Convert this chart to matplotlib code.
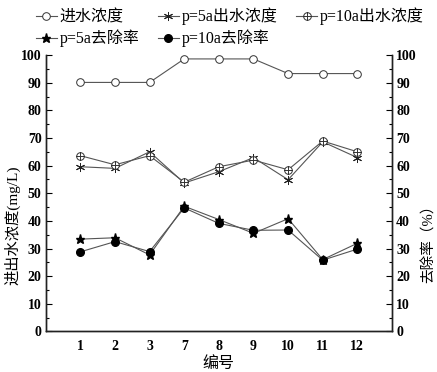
import matplotlib
matplotlib.use("Agg")
import matplotlib.pyplot as plt
from matplotlib.path import Path
from matplotlib.ticker import MultipleLocator
import numpy as np

plt.rcParams['font.family'] = ['Liberation Serif', 'Noto Sans CJK SC', 'DejaVu Sans']
plt.rcParams['axes.unicode_minus'] = False

categories = ['1', '2', '3', '7', '8', '9', '10', '11', '12']
inflow = [90.1, 90.1, 90.1, 98.6, 98.6, 98.6, 93.3, 93.3, 93.3]
out_p5 = [59.6, 59.0, 65.0, 53.7, 57.8, 62.9, 54.9, 68.6, 62.9]
out_p10 = [63.6, 60.3, 63.6, 54.0, 59.6, 62.0, 58.5, 68.9, 65.0]
rem_p5 = [33.4, 33.9, 27.7, 45.3, 40.5, 35.5, 40.8, 26.0, 31.9]
rem_p10 = [28.8, 32.5, 28.9, 44.7, 39.1, 36.6, 36.7, 25.8, 29.8]

# circle with plus marker
circ = Path.unit_circle()
cross = Path([(-1, 0), (1, 0), (0, -1), (0, 1)],
             [Path.MOVETO, Path.LINETO, Path.MOVETO, Path.LINETO])
oplus = Path.make_compound_path(circ, cross)

fig = plt.figure(figsize=(4.37, 3.72), dpi=100)
ax = fig.add_axes([0.1046, 0.109, 0.7924, 0.743])
ax2 = ax.twinx()

x = np.arange(len(categories))
lc = '#555555'
lw = 0.8
h1, = ax.plot(x, inflow, color=lc, lw=lw, marker='o', ms=5.5, mfc='white', mec='#333333', mew=0.7, label='进水浓度')
h2, = ax.plot(x, out_p5, color=lc, lw=lw, marker=(6, 2, 0), ms=6.5, mec='#222222', mew=0.7, label='p=5a出水浓度')
h3, = ax.plot(x, out_p10, color=lc, lw=lw, marker=oplus, ms=5.5, mfc='white', mec='#333333', mew=0.7, label='p=10a出水浓度')
h4, = ax2.plot(x, rem_p5, color=lc, lw=lw, marker='*', ms=6.5, mfc='black', mec='black', label='p=5a去除率')
h5, = ax2.plot(x, rem_p10, color=lc, lw=lw, marker='o', ms=5.5, mfc='black', mec='black', label='p=10a去除率')

for a in (ax, ax2):
    a.set_ylim(0, 100)
    a.set_xlim(-1, 9)
    a.yaxis.set_major_locator(MultipleLocator(10))
    a.yaxis.set_minor_locator(MultipleLocator(5))
    a.tick_params(axis='y', which='major', direction='in', length=4, width=0.8, labelsize=10, pad=3)
    a.tick_params(axis='y', which='minor', direction='in', length=2.5, width=0.8)
    a.spines['top'].set_visible(False)
    for s in ('left', 'right', 'bottom'):
        a.spines[s].set_linewidth(1.0)
        a.spines[s].set_color('#222222')

ax.set_xticks(x)
ax.set_xticklabels(categories)
ax.tick_params(axis='x', length=0, labelsize=10, pad=6)
for lab in ax.get_yticklabels() + ax2.get_yticklabels() + ax.get_xticklabels():
    lab.set_fontweight('bold')

ax.set_xlabel('编号', fontsize=11.5, labelpad=2)
ax.set_ylabel('进出水浓度(mg/L)', fontsize=11)
ax2.set_ylabel('去除率（%）', fontsize=10.5)
ax.yaxis.set_label_coords(-0.074, 0.385)
ax2.yaxis.set_label_coords(1.085, 0.33)

handles = [h1, h4, h2, h5, h3]
fig.legend(handles=handles, labels=[h.get_label() for h in handles], ncol=3,
           loc='upper left', bbox_to_anchor=(0.06, 1.005), frameon=False,
           fontsize=11.5, handlelength=1.3, handletextpad=0.2, columnspacing=1.15,
           labelspacing=0.25, borderaxespad=0.2)

fig.savefig('out.png', dpi=100)
